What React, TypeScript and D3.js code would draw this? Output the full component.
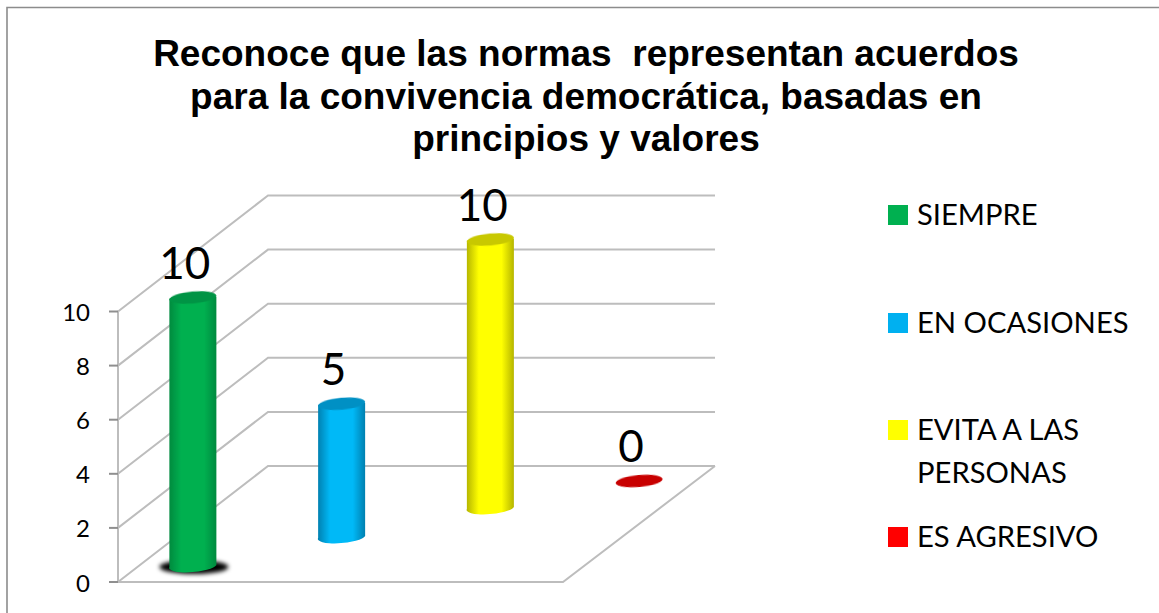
import * as d3 from 'd3';

const categories = ['SIEMPRE', 'EN OCASIONES', 'EVITA A LAS PERSONAS', 'ES AGRESIVO'];
const values = [10, 5, 10, 0];
const yTicks = [0, 2, 4, 6, 8, 10];
const titleLines = [
  'Reconoce que las normas  representan acuerdos',
  'para la convivencia democrática, basadas en',
  'principios y valores',
];
const legendLines = [['SIEMPRE'], ['EN OCASIONES'], ['EVITA A LAS', 'PERSONAS'], ['ES AGRESIVO']];
const legendRows = [215, 323, 430, 537];
const colors = ['#00b050', '#00b9f7', '#ffff00', '#ff0000'];
const legendColors = ['#00b050', '#00b0f0', '#ffff00', '#ff0000'];
const sideColors = ['#008a3e', '#0080b0', '#b5b500', '#c00000'];
const topColors = ['#009444', '#0090c4', '#c8c800', '#c80000'];

const width = 1159;
const height = 613;
// front edge of the floor and how far the 3D depth pushes back
const left = 118;
const right = 563;
const bottom = 582;
const depthX = 150;
const depthY = 116;

const x = d3.scaleBand<string>().domain(categories).range([left, right]);
const depth = d3.scaleBand<string>().domain(categories).range([0, 1]);
const y = d3.scaleLinear().domain([0, 10]).range([bottom, 311.5]);

const barWidth = 47;
const capRy = 6;
const axisGrey = '#bdbdbd';

export default function App() {
  const line = d3.line();
  return (
    <svg
      width={width}
      height={height}
      style={{ position: 'absolute', left: 0, top: 0, background: '#fff' }}
    >
      <defs>
        {categories.map((_, i) => (
          <linearGradient key={i} id={`cyl-${i}`} x1="0" x2="1" y1="0" y2="0">
            <stop offset="0%" stopColor={sideColors[i]} />
            <stop offset="26%" stopColor={colors[i]} />
            <stop offset="74%" stopColor={colors[i]} />
            <stop offset="100%" stopColor={sideColors[i]} />
          </linearGradient>
        ))}
        <filter id="soft" x="-30%" y="-30%" width="160%" height="160%">
          <feGaussianBlur stdDeviation="0.7" />
        </filter>
        <filter id="shadow" x="-30%" y="-100%" width="160%" height="300%">
          <feGaussianBlur stdDeviation="2" />
        </filter>
        <filter id="gridSoft" x="-5%" y="-5%" width="110%" height="110%">
          <feGaussianBlur stdDeviation="0.4" />
        </filter>
      </defs>

      {/* picture frame */}
      <path d="M7,613V7.5H1159" fill="none" stroke="#8c8c8c" strokeWidth={1.6} />

      {titleLines.map((t, i) => (
        <text
          key={i}
          x={586}
          y={66 + i * 42.5}
          textAnchor="middle"
          xmlSpace="preserve"
          fontFamily="Liberation Sans"
          fontWeight="bold"
          fontSize={37}
          fill="#000"
          style={{ whiteSpace: 'pre' }}
        >
          {t}
        </text>
      ))}

      {/* back wall grid, side wall and floor */}
      <g fill="none" stroke={axisGrey} strokeWidth={2} filter="url(#gridSoft)">
        {yTicks.map((t) => (
          <path
            key={t}
            d={
              line([
                [left, y(t)],
                [left + depthX, y(t) - depthY],
                [right + depthX + 2, y(t) - depthY],
              ]) ?? ''
            }
          />
        ))}
        <path d={line([[left, y(0)], [left, y(10)]]) ?? ''} />
        <path
          d={
            line([
              [left - 9, y(0)],
              [right, y(0)],
              [right + depthX + 2, y(0) - depthY],
            ]) ?? ''
          }
        />
        {yTicks.map((t) => (
          <path key={t} d={line([[left - 9, y(t)], [left, y(t)]]) ?? ''} stroke="#8f8f8f" />
        ))}
      </g>

      {yTicks.map((t) => (
        <text
          key={t}
          x={90}
          y={y(t) + 9.5}
          textAnchor="end"
          fontFamily="Lato"
          fontSize={24}
          fill="#000"
        >
          {t}
        </text>
      ))}

      {/* cylinders, front to back */}
      {categories.map((c, i) => {
        const t = (depth(c) ?? 0) + depth.bandwidth() / 2;
        const cx = (x(c) ?? 0) + x.bandwidth() / 2 + t * depthX + 0.5;
        const cy = bottom - t * depthY + 0.5;
        const h = bottom - y(values[i]);
        const topY = cy - h;
        const rx = barWidth / 2;
        const body = `M${cx - rx},${cy - 1}V${topY + 1}L${cx + rx},${topY - 1}V${cy - 3}A${rx},${capRy} -5 0 1 ${cx - rx},${cy - 1}Z`;
        return (
          <g key={c}>
            {i === 0 && (
              <ellipse
                cx={cx + 1}
                cy={cy - 1}
                rx={rx + 11}
                ry={capRy + 1}
                fill="#000"
                filter="url(#shadow)"
              />
            )}
            {h > 0 && <path d={body} fill={`url(#cyl-${i})`} filter="url(#soft)" />}
            <ellipse
              cx={cx}
              cy={topY}
              rx={rx}
              ry={capRy}
              transform={`rotate(-5 ${cx} ${topY})`}
              fill={topColors[i]}
              filter="url(#soft)"
            />
            <text
              x={cx - 8}
              y={topY - 19}
              textAnchor="middle"
              fontFamily="Lato"
              fontSize={44}
              fill="#000"
            >
              {values[i]}
            </text>
          </g>
        );
      })}

      {/* legend */}
      {categories.map((c, i) => (
        <g key={c}>
          <rect x={888} y={legendRows[i] - 10} width={20} height={20} fill={legendColors[i]} />
          {legendLines[i].map((l, j) => (
            <text
              key={l}
              x={917}
              y={legendRows[i] + 10 + j * 42.5}
              fontFamily="Lato"
              fontSize={29.2}
              fill="#000"
            >
              {l}
            </text>
          ))}
        </g>
      ))}
    </svg>
  );
}
